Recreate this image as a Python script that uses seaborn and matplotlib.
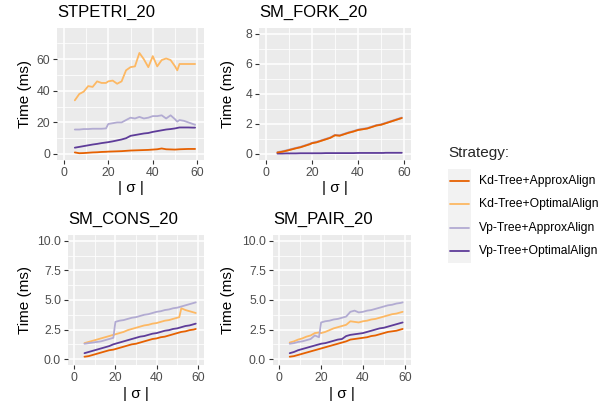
import numpy as np
import pandas as pd
import matplotlib
matplotlib.use("Agg")
import matplotlib.pyplot as plt
import seaborn as sns
from matplotlib.patches import Rectangle
from matplotlib.lines import Line2D

# sigma values (x axis)
sigma = [5, 7, 9, 11, 13, 15, 17, 19, 20, 22, 24, 26, 28, 30, 32, 34, 36, 38, 40,
         42, 44, 46, 48, 50, 51, 52, 54, 56, 58, 59]

strategies = ["Kd-Tree+ApproxAlign", "Kd-Tree+OptimalAlign",
              "Vp-Tree+ApproxAlign", "Vp-Tree+OptimalAlign"]
colors = ["#e66101", "#fdb863", "#b2abd2", "#5e3c99"]

# STPETRI_20 (ms)
stpetri_kd_approx = [1, 0.5, 0.6, 0.8, 1, 1.1, 1.3, 1.4, 1.5, 1.6, 1.7, 1.8, 2, 2.2, 2.3,
                     2.4, 2.5, 2.6, 2.8, 3.0, 3.5, 3.0, 2.9, 2.8, 2.9, 3.0, 3.1, 3.2, 3.2, 3.2]
stpetri_kd_opt = [34, 38, 39.5, 43, 42.5, 46, 45, 45, 46, 46.5, 44.5, 46, 53, 55, 55.5,
                  64, 60, 55, 62, 55.5, 59.5, 60.5, 59.5, 55.5, 53, 57, 57, 57, 57, 57]
stpetri_vp_approx = [15.5, 15.5, 15.8, 15.8, 16, 16, 16, 16.2, 19, 19.5, 20, 20, 21.5, 23,
                     22.5, 23.5, 22.5, 23, 24, 24, 24.5, 22.5, 24.5, 22, 20.5, 21.5, 21,
                     20, 19, 18.5]
stpetri_vp_opt = [4, 4.5, 5, 5.5, 6, 6.4, 6.9, 7.3, 7.5, 8, 8.6, 9.2, 10, 11.5, 12, 12.5,
                  13, 13.3, 14, 14.5, 15, 15.5, 15.8, 16.2, 16.5, 16.8, 16.8, 16.8, 16.7, 16.7]

# SM_FORK_20 (ms)
fork_kd_approx = [0.1, 0.15, 0.22, 0.3, 0.38, 0.45, 0.55, 0.65, 0.72, 0.78, 0.88, 0.98,
                  1.08, 1.25, 1.22, 1.32, 1.42, 1.5, 1.6, 1.65, 1.7, 1.8, 1.9, 1.95, 2.0,
                  2.05, 2.15, 2.25, 2.35, 2.4]
fork_kd_opt = [0.1, 0.15, 0.22, 0.3, 0.38, 0.45, 0.55, 0.65, 0.72, 0.78, 0.88, 0.98,
               1.08, 1.25, 1.22, 1.32, 1.42, 1.5, 1.6, 1.65, 1.7, 1.8, 1.9, 1.95, 2.0,
               2.05, 2.15, 2.25, 2.35, 2.4]
fork_vp_approx = [0.13, 0.18, 0.25, 0.33, 0.41, 0.48, 0.58, 0.68, 0.75, 0.81, 0.91, 1.01,
                  1.11, 1.28, 1.25, 1.35, 1.45, 1.53, 1.63, 1.68, 1.73, 1.83, 1.93, 1.98,
                  2.03, 2.08, 2.18, 2.28, 2.38, 2.43]
fork_vp_opt = [0.03, 0.03, 0.04, 0.04, 0.04, 0.05, 0.05, 0.05, 0.05, 0.05, 0.05, 0.06,
               0.06, 0.06, 0.06, 0.06, 0.06, 0.06, 0.07, 0.07, 0.07, 0.07, 0.07, 0.07,
               0.07, 0.08, 0.08, 0.08, 0.08, 0.08]

# SM_CONS_20 (ms)
cons_kd_approx = [0.2, 0.25, 0.35, 0.45, 0.55, 0.65, 0.75, 0.8, 0.85, 0.95, 1.05, 1.15,
                  1.25, 1.3, 1.4, 1.5, 1.6, 1.7, 1.75, 1.85, 1.9, 2.0, 2.1, 2.2, 2.25,
                  2.3, 2.35, 2.45, 2.5, 2.55]
cons_kd_opt = [1.35, 1.45, 1.55, 1.65, 1.75, 1.85, 1.95, 2.05, 2.1, 2.2, 2.3, 2.45, 2.55,
               2.65, 2.75, 2.85, 2.9, 3.0, 3.05, 3.15, 3.25, 3.3, 3.4, 3.5, 3.55, 4.3,
               4.15, 4.05, 3.95, 3.9]
cons_vp_approx = [1.3, 1.35, 1.4, 1.45, 1.5, 1.6, 1.7, 1.8, 3.15, 3.25, 3.3, 3.4, 3.5,
                  3.55, 3.65, 3.75, 3.8, 3.9, 4.0, 4.05, 4.15, 4.2, 4.3, 4.35, 4.4, 4.45,
                  4.55, 4.65, 4.75, 4.8]
cons_vp_opt = [0.5, 0.6, 0.7, 0.8, 0.9, 1.0, 1.1, 1.25, 1.3, 1.4, 1.5, 1.6, 1.7, 1.8,
               1.9, 1.95, 2.05, 2.15, 2.2, 2.3, 2.4, 2.45, 2.55, 2.6, 2.65, 2.7, 2.8,
               2.85, 2.95, 3.0]

# SM_PAIR_20 (ms)
pair_kd_approx = [0.2, 0.25, 0.35, 0.45, 0.55, 0.65, 0.75, 0.85, 0.9, 1.0, 1.1, 1.2, 1.3,
                  1.4, 1.5, 1.65, 1.7, 1.75, 1.8, 1.85, 1.95, 2.0, 2.1, 2.2, 2.25, 2.3,
                  2.35, 2.4, 2.5, 2.55]
pair_kd_opt = [1.4, 1.5, 1.65, 1.75, 1.9, 2.0, 2.2, 2.25, 2.2, 2.3, 2.45, 2.6, 2.7, 2.8,
               2.9, 3.2, 3.15, 3.1, 3.2, 3.25, 3.35, 3.4, 3.5, 3.6, 3.65, 3.7, 3.8, 3.85,
               3.95, 4.0]
pair_vp_approx = [1.3, 1.35, 1.45, 1.5, 1.6, 1.7, 2.0, 1.85, 3.1, 3.2, 3.25, 3.35, 3.4,
                  3.5, 3.6, 4.0, 4.1, 3.95, 4.0, 4.1, 4.15, 4.25, 4.35, 4.45, 4.5, 4.55,
                  4.6, 4.7, 4.75, 4.8]
pair_vp_opt = [0.5, 0.6, 0.75, 0.85, 0.95, 1.05, 1.15, 1.25, 1.3, 1.35, 1.45, 1.55, 1.65,
               1.7, 1.95, 2.05, 2.1, 2.15, 2.2, 2.3, 2.4, 2.5, 2.6, 2.65, 2.7, 2.75, 2.85,
               2.95, 3.05, 3.1]

panels = {
    "STPETRI_20": [stpetri_kd_approx, stpetri_kd_opt, stpetri_vp_approx, stpetri_vp_opt],
    "SM_FORK_20": [fork_kd_approx, fork_kd_opt, fork_vp_approx, fork_vp_opt],
    "SM_CONS_20": [cons_kd_approx, cons_kd_opt, cons_vp_approx, cons_vp_opt],
    "SM_PAIR_20": [pair_kd_approx, pair_kd_opt, pair_vp_approx, pair_vp_opt],
}

y_ticks = {
    "STPETRI_20": ([0, 20, 40, 60], ["0", "20", "40", "60"], (0, 76)),
    "SM_FORK_20": ([0, 2, 4, 6, 8], ["0", "2", "4", "6", "8"], (0, 8)),
    "SM_CONS_20": ([0, 2.5, 5, 7.5, 10], ["0.0", "2.5", "5.0", "7.5", "10.0"], (0, 10)),
    "SM_PAIR_20": ([0, 2.5, 5, 7.5, 10], ["0.0", "2.5", "5.0", "7.5", "10.0"], (0, 10)),
}

rows = []
for name, series in panels.items():
    for strat, vals in zip(strategies, series):
        for s, v in zip(sigma, vals):
            rows.append({"dataset": name, "sigma": s, "time": v, "Strategy": strat})
df = pd.DataFrame(rows)

sns.set_theme(style="darkgrid", rc={
    "axes.facecolor": "#EBEBEB",
    "grid.color": "white",
    "axes.edgecolor": "#EBEBEB",
})
plt.rcParams["font.family"] = ["Liberation Sans", "DejaVu Sans"]

W, H = 614, 408
fig = plt.figure(figsize=(W / 100, H / 100), dpi=100)
fig.patch.set_facecolor("white")

# panel boxes in pixels: left, top, right, bottom
boxes = {
    "STPETRI_20": (57, 28, 204, 160),
    "SM_FORK_20": (259, 28, 411, 160),
    "SM_CONS_20": (68, 235, 204, 365),
    "SM_PAIR_20": (273, 235, 411, 365),
}
ylab_x = {"STPETRI_20": 25, "SM_FORK_20": 228, "SM_CONS_20": 25, "SM_PAIR_20": 228}
xlab_y = {"STPETRI_20": 188, "SM_FORK_20": 188, "SM_CONS_20": 394, "SM_PAIR_20": 394}

for name, (l, t, r, b) in boxes.items():
    ax = fig.add_axes([l / W, 1 - b / H, (r - l) / W, (b - t) / H])
    sub = df[df["dataset"] == name]
    sns.lineplot(data=sub, x="sigma", y="time", hue="Strategy", hue_order=strategies,
                 palette=colors, linewidth=1.3, legend=False, ax=ax)
    if name == "SM_FORK_20":
        ax.lines[0].set_zorder(5)

    ticks, labels, (lo, hi) = y_ticks[name]
    pad = (hi - lo) * 0.05
    ax.set_ylim(lo - pad, hi + pad)
    ax.set_xlim(-3, 63)
    ax.set_xticks([0, 20, 40, 60])
    ax.set_xticklabels(["0", "20", "40", "60"])
    ax.set_yticks(ticks)
    ax.set_yticklabels(labels)
    step = ticks[1] - ticks[0]
    ax.set_yticks(np.arange(lo + step / 2, hi + pad, step), minor=True)
    ax.set_xticks([10, 30, 50], minor=True)
    ax.grid(which="major", color="white", linewidth=1.1)
    ax.grid(which="minor", color="white", linewidth=0.55)
    ax.tick_params(which="major", length=3, width=0.8, color="#333333", pad=2,
                   labelsize=8.8, labelcolor="#4D4D4D", bottom=True, left=True)
    ax.tick_params(which="minor", length=0)
    for sp in ax.spines.values():
        sp.set_visible(False)

    ax.set_ylabel("Time (ms)", fontsize=11, color="black", va="center")
    ax.set_xlabel("| σ |", fontsize=11, color="black", va="center")
    ax.yaxis.set_label_coords((ylab_x[name] - l) / (r - l), 0.5)
    ax.xaxis.set_label_coords(0.5, (b - xlab_y[name]) / (b - t))
    ax.set_title(name, loc="left", fontsize=12, color="black", pad=8)

# legend on the right with ggplot-like grey key column
fig.text(448 / W, 1 - 153 / H, "Strategy:", fontsize=11, va="center", ha="left")
fig.patches.append(Rectangle((448 / W, 1 - 263 / H), 23 / W, 94 / H,
                             transform=fig.transFigure, facecolor="#F2F2F2",
                             edgecolor="none", zorder=0))
for i, (strat, c) in enumerate(zip(strategies, colors)):
    yy = 1 - (181 + i * 23.4) / H
    fig.lines.append(Line2D([450 / W, 469 / W], [yy, yy], transform=fig.transFigure,
                            color=c, linewidth=1.3))
    fig.text(479 / W, yy, strat, fontsize=8.7, va="center", ha="left", color="black")

fig.savefig("out.png", dpi=100)
